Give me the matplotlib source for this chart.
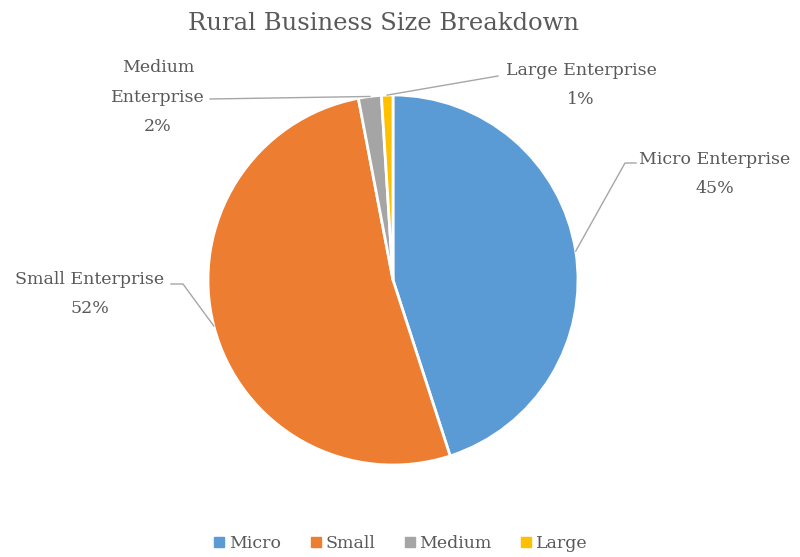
import numpy as np
import matplotlib
matplotlib.use("Agg")
import matplotlib.pyplot as plt
from matplotlib.lines import Line2D

categories = ["Micro", "Small", "Medium", "Large"]
label_names = ["Micro Enterprise", "Small Enterprise", "Medium\nEnterprise", "Large Enterprise"]
shares = [45, 52, 2, 1]
colors = ["#5B9BD5", "#ED7D31", "#A5A5A5", "#FFC000"]

W, H = 800, 557
fig = plt.figure(figsize=(W / 100, H / 100), dpi=100)
ax = fig.add_axes([0, 0, 1, 1])

font = "DejaVu Serif"
txt_color = "#595959"
line_color = "#A6A6A6"

cx, cy, r = 393, H - 280, 185
wedges, _ = ax.pie(shares, colors=colors, startangle=90, counterclock=False,
                   center=(cx, cy), radius=r,
                   wedgeprops=dict(edgecolor="white", linewidth=2))
ax.set_xlim(0, W)
ax.set_ylim(0, H)
ax.set_aspect("equal")
ax.axis("off")

# label text centre, and the leader path from the wedge edge towards the label
label_pos = [(715, H - 174), (90, H - 294), (158, H - 97), (581, H - 85)]
leader_tail = [
    [(625, H - 163), (636, H - 163)],
    [(183, H - 284), (171, H - 284)],
    [(210, H - 99)],
    [(498, H - 76)],
]

for w, name, val, (tx, ty), tail in zip(wedges, label_names, shares, label_pos, leader_tail):
    ang = np.deg2rad((w.theta1 + w.theta2) / 2)
    px, py = cx + r * np.cos(ang), cy + r * np.sin(ang)
    xs = [px] + [p[0] for p in tail]
    ys = [py] + [p[1] for p in tail]
    ax.plot(xs, ys, color=line_color, lw=1)
    ax.text(tx, ty, f"{name}\n{val}%", ha="center", va="center", fontsize=12.5,
            color=txt_color, family=font, linespacing=1.95)

fig.text(383 / W, 1 - 23 / H, "Rural Business Size Breakdown", ha="center", va="center",
         fontsize=17.5, color=txt_color, family=font)

handles = [Line2D([], [], marker="s", linestyle="", markersize=6.5,
                  markerfacecolor=c, markeredgecolor=c) for c in colors]
fig.legend(handles, categories, loc="center", bbox_to_anchor=(0.5, 1 - 544 / H),
           ncol=4, frameon=False, handletextpad=0.15, columnspacing=1.6,
           handlelength=0.8, prop=dict(family=font, size=12.5), labelcolor=txt_color)

fig.savefig("out.png", dpi=100, facecolor="white")
